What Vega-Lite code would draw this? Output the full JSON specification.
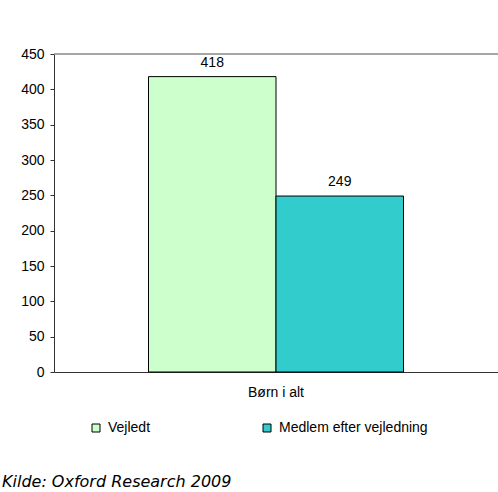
{
  "$schema": "https://vega.github.io/schema/vega-lite/v6.json",
  "autosize": "none",
  "width": 444,
  "height": 318,
  "padding": {"left": 54, "top": 54, "right": 0, "bottom": 120},
  "background": "white",
  "data": {
    "values": [
      {"kategori": "Børn i alt", "serie": "Vejledt", "antal": 418},
      {"kategori": "Børn i alt", "serie": "Medlem efter vejledning", "antal": 249}
    ]
  },
  "title": {
    "text": "Kilde: Oxford Research 2009",
    "orient": "bottom",
    "anchor": "start",
    "frame": "group",
    "dx": -52,
    "offset": 39,
    "font": "DejaVu Sans",
    "fontSize": 16,
    "fontStyle": "italic",
    "fontWeight": "normal",
    "color": "black"
  },
  "config": {
    "view": {"stroke": null},
    "font": "Liberation Sans",
    "axisY": {
      "labelOverlap": false,
      "labelFlush": false,
      "grid": false,
      "tickSize": 4,
      "labelPadding": 6,
      "labelFont": "Liberation Sans",
      "labelFontSize": 14,
      "labelColor": "black",
      "domainColor": "#333333",
      "tickColor": "#333333"
    }
  },
  "layer": [
    {
      "mark": {"type": "rule", "color": "#888888", "strokeWidth": 1},
      "encoding": {
        "y": {
          "datum": 450,
          "type": "quantitative",
          "scale": {"domain": [0, 450], "nice": false},
          "axis": {"title": null, "values": [0, 50, 100, 150, 200, 250, 300, 350, 400, 450]}
        }
      }
    },
    {
      "mark": {"type": "bar", "stroke": "black", "strokeWidth": 1},
      "encoding": {
        "x": {
          "field": "kategori",
          "type": "nominal",
          "scale": {"paddingInner": 0, "paddingOuter": 0.3706},
          "axis": {
            "title": null,
            "labelAngle": 0,
            "ticks": false,
            "labelPadding": 13,
            "labelFont": "Liberation Sans",
            "labelFontSize": 14,
            "labelColor": "black",
            "domainColor": "#333333"
          }
        },
        "xOffset": {
          "field": "serie",
          "type": "nominal",
          "sort": ["Vejledt", "Medlem efter vejledning"],
          "scale": {"paddingInner": 0, "paddingOuter": 0}
        },
        "y": {
          "field": "antal",
          "type": "quantitative",
          "axis": {"title": null, "values": [0, 50, 100, 150, 200, 250, 300, 350, 400, 450]}
        },
        "color": {
          "field": "serie",
          "type": "nominal",
          "sort": ["Vejledt", "Medlem efter vejledning"],
          "scale": {"domain": ["Vejledt", "Medlem efter vejledning"], "range": ["#CCFFCC", "#33CCCC"]},
          "legend": {
            "title": null,
            "orient": "none",
            "legendX": 35,
            "legendY": 367,
            "direction": "horizontal",
            "symbolType": "square",
            "symbolSize": 64,
            "symbolStrokeColor": "black",
            "symbolStrokeWidth": 1,
            "symbolOpacity": 1,
            "labelFont": "Liberation Sans",
            "labelFontSize": 14,
            "labelColor": "black",
            "labelOffset": 5,
            "columnPadding": 109,
            "padding": 0,
            "labelLimit": 300
          }
        }
      }
    },
    {
      "mark": {"type": "text", "baseline": "alphabetic", "dy": -10, "font": "Liberation Sans", "fontSize": 14, "color": "black"},
      "encoding": {
        "x": {"field": "kategori", "type": "nominal"},
        "xOffset": {"field": "serie", "type": "nominal", "sort": ["Vejledt", "Medlem efter vejledning"]},
        "y": {
          "field": "antal",
          "type": "quantitative",
          "axis": {"title": null, "values": [0, 50, 100, 150, 200, 250, 300, 350, 400, 450]}
        },
        "text": {"field": "antal", "type": "quantitative"}
      }
    }
  ]
}
